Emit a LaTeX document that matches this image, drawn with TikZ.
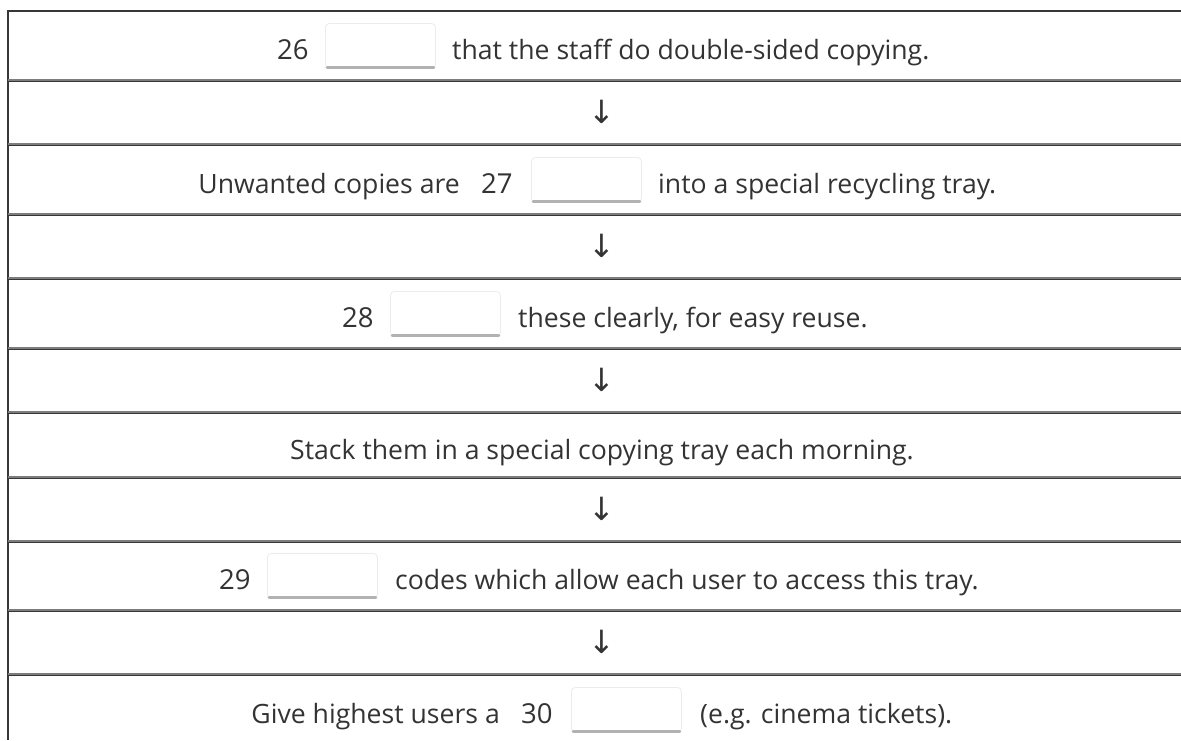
\documentclass[tikz,border=0pt]{standalone}
\usepackage{fontspec}
\setmainfont{Open Sans}
\newfontfamily\arrowfont{DejaVu Sans}
\definecolor{ink}{RGB}{51,51,51}
\definecolor{rule}{RGB}{55,55,55}
\definecolor{rulelight}{RGB}{125,125,125}
\definecolor{blankedge}{RGB}{236,236,236}
\definecolor{blankbar}{RGB}{178,178,178}
\tikzset{
  txt/.style={inner sep=0pt, text=ink, font=\fontsize{26.6}{30}\selectfont},
  num/.style={inner sep=0pt, text=ink, font=\fontsize{27.5}{31}\selectfont, anchor=base west},
  blank/.style={draw=blankedge, fill=white, rounded corners=4pt, minimum width=110pt, minimum height=45pt, inner sep=0pt, anchor=north west, line width=0.8pt},
  bar/.style={draw=blankbar, line width=3pt, line cap=round},
  arr/.style={inner sep=0pt, text=ink, font=\arrowfont\fontsize{32}{34}\selectfont},
  hrule/.style={draw=rule, line width=1.6pt},
  hrulelight/.style={draw=rulelight, line width=1.2pt},
  vrule/.style={draw=rule, line width=2.6pt},
}
\begin{document}
\begin{tikzpicture}[x=1pt,y=-1pt]
\useasboundingbox (0,0) rectangle (1181,740);
% table rules
\coordinate (L) at (8,10);
\coordinate (Lb) at (8,740);
\draw[vrule] (L) -- (Lb);
\draw[hrule, line width=2.4pt] (8,11) -- (1181,11);
\foreach \yy in {81,145,215,279,349,413,478,542,611,675}{
  \draw[hrulelight] (8,\yy-1) -- (1181,\yy-1);
  \draw[hrule] (8,\yy+0.6) -- (1181,\yy+0.6);
}
% row 1
\node[num] (n26) at (277,59) {26};
\node[blank] (b26) at (325,23) {};
\draw[bar] ([shift={(2,-1.5)}]b26.south west) -- ([shift={(-2,-1.5)}]b26.south east);
\node[txt, anchor=base west] (t26) at (452,59) {that the staff do double-sided copying.};
% arrow 1
\node[arr] (a1) at (602,112) {↓};
% row 3
\node[txt, anchor=base east] (p27) at (460,193) {Unwanted copies are};
\node[num] (n27) at (481,193) {27};
\node[blank] (b27) at (531,157) {};
\draw[bar] ([shift={(2,-1.5)}]b27.south west) -- ([shift={(-2,-1.5)}]b27.south east);
\node[txt, anchor=base west] (t27) at (658,193) {into a special recycling tray.};
% arrow 2
\node[arr] (a2) at (602,246) {↓};
% row 5
\node[num] (n28) at (342,327) {28};
\node[blank] (b28) at (390,291) {};
\draw[bar] ([shift={(2,-1.5)}]b28.south west) -- ([shift={(-2,-1.5)}]b28.south east);
\node[txt, anchor=base west] (t28) at (518,327) {these clearly, for easy reuse.};
% arrow 3
\node[arr] (a3) at (602,380) {↓};
% row 7
\node[txt, anchor=base] (t7) at (602,459) {Stack them in a special copying tray each morning.};
% arrow 4
\node[arr] (a4) at (602,509) {↓};
% row 9
\node[num] (n29) at (219,589) {29};
\node[blank] (b29) at (267,553) {};
\draw[bar] ([shift={(2,-1.5)}]b29.south west) -- ([shift={(-2,-1.5)}]b29.south east);
\node[txt, anchor=base west] (t29) at (395,589) {codes which allow each user to access this tray.};
% arrow 5
\node[arr] (a5) at (602,642) {↓};
% row 11
\node[txt, anchor=base east] (p30) at (500,723) {Give highest users a};
\node[num] (n30) at (521,723) {30};
\node[blank] (b30) at (571,687) {};
\draw[bar] ([shift={(2,-1.5)}]b30.south west) -- ([shift={(-2,-1.5)}]b30.south east);
\node[txt, anchor=base west] (t30) at (700,723) {(e.g. cinema tickets).};
\end{tikzpicture}
\end{document}
